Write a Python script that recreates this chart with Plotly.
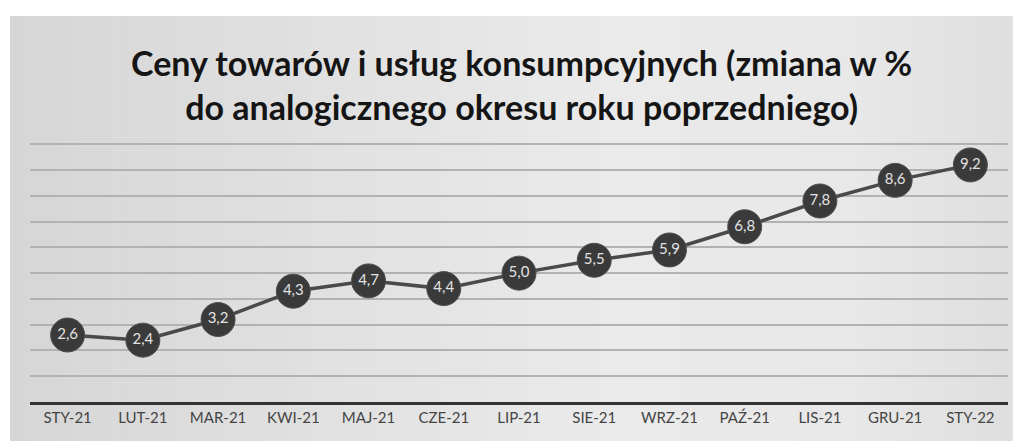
import plotly.graph_objects as go

months = ["STY-21", "LUT-21", "MAR-21", "KWI-21", "MAJ-21", "CZE-21", "LIP-21",
          "SIE-21", "WRZ-21", "PAŹ-21", "LIS-21", "GRU-21", "STY-22"]
cpi = [2.6, 2.4, 3.2, 4.3, 4.7, 4.4, 5.0, 5.5, 5.9, 6.8, 7.8, 8.6, 9.2]
labels = [f"{v:.1f}".replace(".", ",") for v in cpi]

title_text = ("Ceny towarów i usług konsumpcyjnych (zmiana w %<br>"
              "do analogicznego okresu roku poprzedniego)")

OFF = 8  # default page body margin
W, H = 1022 - OFF, 448 - OFF
# desired page-pixel geometry
PL, PR, PT, PB = 30, 1008, 143, 402
L, T = PL - OFF, PT - OFF
R, B = W - (PR - OFF), H - (PB - OFF)
pw, ph = W - L - R, H - T - B

def px_x(p):
    return (p - OFF - L) / pw

def px_y(p):
    return (H - B - (p - OFF)) / ph

fig = go.Figure()

# background panel with a soft horizontal gradient
n = 60
x_start, x_end = 10, 1012
stops = [(0.0, 214), (0.35, 226), (0.6, 234), (0.85, 232), (1.0, 222)]
def shade(t):
    for (t0, c0), (t1, c1) in zip(stops, stops[1:]):
        if t0 <= t <= t1:
            return c0 + (c1 - c0) * (t - t0) / (t1 - t0)
    return stops[-1][1]
for i in range(n):
    a = x_start + (x_end - x_start) * i / n
    b = x_start + (x_end - x_start) * (i + 1) / n + 0.8
    g = int(round(shade((i + 0.5) / n)))
    fig.add_shape(type="rect", xref="paper", yref="paper", layer="below",
                  x0=px_x(a), x1=px_x(b), y0=px_y(441), y1=px_y(16),
                  fillcolor=f"rgb({g},{g},{g})", line=dict(width=0))

fig.add_trace(go.Scatter(
    x=months, y=cpi, mode="lines+markers+text",
    text=labels, textposition="middle center",
    textfont=dict(family="Lato, Open Sans, sans-serif", size=15, color="#e2e2e2"),
    line=dict(color="#4a4a4a", width=3.5),
    marker=dict(size=34, color="#3a3a3a", line=dict(color="#505050", width=1)),
    cliponaxis=False, hoverinfo="skip", showlegend=False,
))

fig.add_annotation(text=title_text, xref="paper", yref="paper",
                   x=px_x(521), y=px_y(84), xanchor="center", yanchor="middle",
                   showarrow=False, align="center",
                   font=dict(family="Lato, Open Sans, sans-serif", size=34,
                             color="#151515", weight="bold"))

fig.update_layout(
    width=W, height=H,
    margin=dict(l=L, r=R, t=T, b=B, pad=0),
    paper_bgcolor="#ffffff", plot_bgcolor="rgba(0,0,0,0)",
    xaxis=dict(type="category", range=[-0.5, 12.5], showgrid=False,
               showline=True, linecolor="#333333", linewidth=2.5,
               ticks="", tickfont=dict(family="Lato, Open Sans, sans-serif", size=15, color="#444444"),
               fixedrange=True),
    yaxis=dict(range=[0, 10.05], dtick=1, showticklabels=False, showgrid=True,
               gridcolor="#b2b2b2", gridwidth=1.5, zeroline=False, fixedrange=True),
)

fig.write_html("out.html")
